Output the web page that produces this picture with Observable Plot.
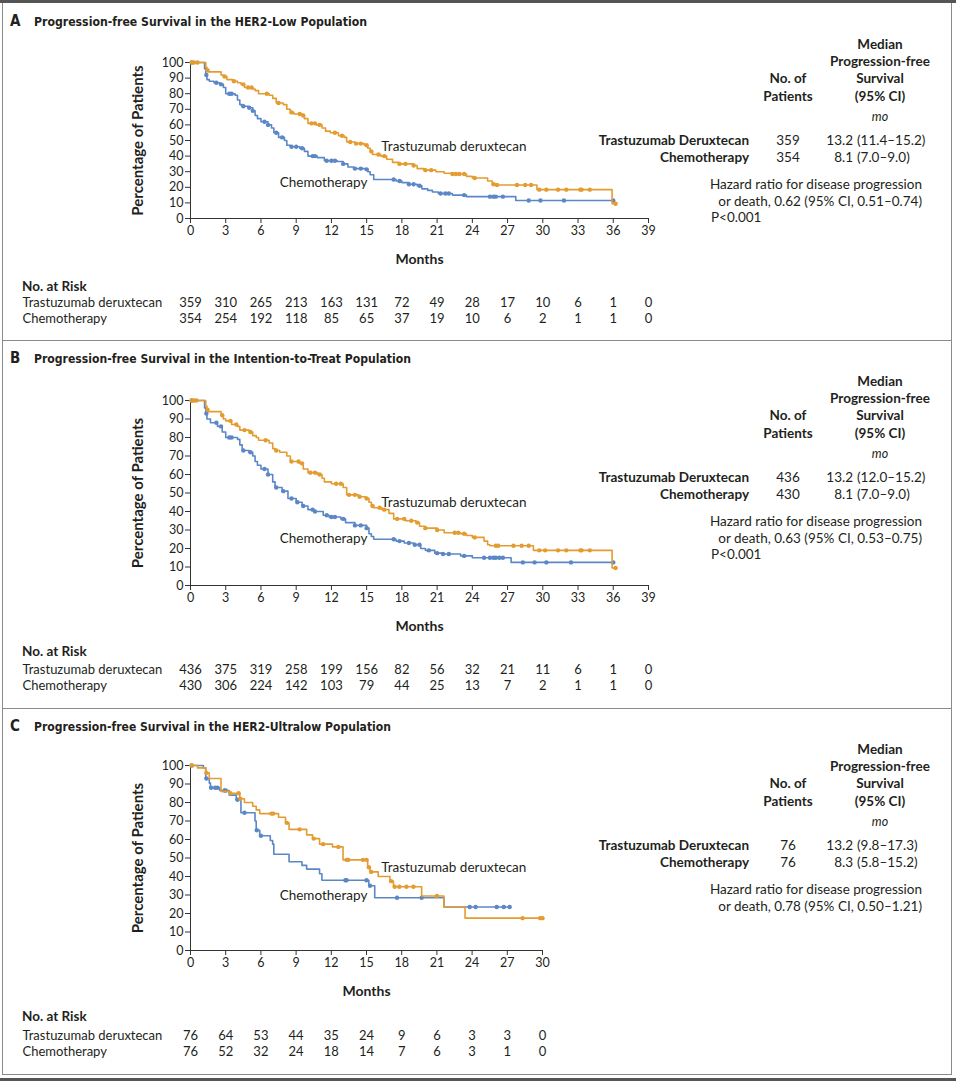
<!DOCTYPE html>
<html><head><meta charset="utf-8">
<script src="https://cdn.jsdelivr.net/npm/d3@7"></script>
<script src="https://cdn.jsdelivr.net/npm/@observablehq/plot@0.6"></script>
<style>
body{margin:0;background:#fff;}
#page{position:relative;width:956px;height:1082px;font-family:Lato,"Open Sans",sans-serif;color:#231f20;overflow:hidden;background:#fff;}
.abs{position:absolute;white-space:nowrap;line-height:16px;font-size:13.5px;}
.b{font-weight:bold;}
.it{font-style:italic;font-size:12.5px;}
.title{font-family:"Liberation Sans Narrow","DejaVu Sans Condensed",Lato,sans-serif;font-weight:bold;font-size:13px;transform-origin:0 50%;}
.title .lt{font-size:15px;display:inline-block;width:24px;}
.line{position:absolute;}
.plotwrap{position:absolute;left:0;}
.plotwrap svg [aria-label="x-axis label"]{font-weight:bold;font-size:14px;}
.plotwrap svg [aria-label="y-axis label"]{font-weight:bold;font-size:15px;}
</style>
</head><body><div id="page"></div>
<script>
// ---------- Data ----------
const groups = ["Trastuzumab deruxtecan", "Chemotherapy"];
const yTicks = [0,10,20,30,40,50,60,70,80,90,100];
const monthTicks39 = [0,3,6,9,12,15,18,21,24,27,30,33,36,39];
const monthTicks30 = [0,3,6,9,12,15,18,21,24,27,30];

// Panel A: HER2-low  [month, % progression-free]
const tdxdA = [[0,100],[1.3,97],[1.4,95],[1.5,94],[2.6,92],[2.8,91],[3.1,89],[3.6,88],[4.0,87],[4.3,86],[4.6,84],[5.3,83],[5.5,82],[5.8,80],[6.7,79],[7.0,77],[7.3,74],[7.9,73],[8.2,70],[8.5,68],[8.8,67],[9.5,66],[9.7,64],[10.0,61],[10.7,60],[11.2,58],[11.5,56],[11.9,55],[12.6,53],[13.1,52],[13.3,49],[14.0,48],[14.8,47],[15.1,45],[15.3,43],[15.5,41],[16.2,40],[16.7,38],[17.2,36],[17.7,35],[19.0,34],[19.3,32],[19.9,31],[20.9,30],[21.6,29],[22.3,28.5],[23.5,27],[24.0,26],[25.3,24],[25.7,22],[26.0,21.5],[29.5,18.5],[35.9,9.5],[36.2,9.5]];
const chemoA = [[0,100],[1.2,96],[1.3,92],[1.4,89],[1.6,88],[2.0,87],[2.5,86],[2.8,84],[3.0,80],[3.8,79],[4.0,76],[4.2,73],[4.4,72],[4.9,71],[5.3,69],[5.5,66],[5.7,64],[6.0,62],[6.6,60],[6.9,58],[7.1,55],[7.5,52],[8.0,50],[8.2,47],[8.5,46],[9.3,45],[9.7,43],[10.0,40],[10.8,39],[11.4,37],[12.5,36.5],[13.0,35],[13.4,33],[13.9,32],[14.9,31.5],[15.1,30],[15.3,28],[15.6,25],[17.5,24],[18.0,23],[18.6,22],[19.3,21],[19.7,19],[20.2,18],[20.6,17],[21.1,16],[22.3,15],[23.5,14],[27.7,11.5],[36.0,11.5]];
const tdxdCensA = [0.1,0.3,0.6,1.45,2.9,3.7,4.5,4.9,5.2,6.5,7.5,8.6,9.3,9.6,10.3,10.6,11.0,12.3,12.9,13.6,14.1,14.5,15.0,15.4,16.0,16.5,17.8,18.3,19.0,20.0,20.5,22.3,22.6,22.9,23.3,24.2,25.8,26.1,27.8,28.5,29.0,29.7,30.3,31.3,32.0,33.2,33.3,34.0,36.2];
const chemoCensA = [0.1,1.35,2.2,2.6,3.3,3.5,4.5,5.0,5.3,6.3,6.6,7.3,7.8,8.6,9.0,9.5,10.4,10.6,11.6,12.0,12.3,13.0,14.0,14.5,15.0,17.3,17.8,18.6,19.0,19.5,21.3,21.7,22.0,23.3,25.5,25.8,26.0,26.6,28.8,29.8,31.8,36.0];
const riskTdxdA = [359,310,265,213,163,131,72,49,28,17,10,6,1,0];
const riskChemoA = [354,254,192,118,85,65,37,19,10,6,2,1,1,0];

// Panel B: intention-to-treat
const tdxdB = [[0,100],[1.3,97],[1.4,95],[1.5,94],[2.6,92],[2.8,90],[3.0,89],[3.5,87],[4.0,86],[4.2,84],[5.0,83],[5.3,81],[5.6,80],[5.8,78.5],[6.7,77],[7.0,74],[7.2,73],[7.6,72],[8.2,70],[8.5,67],[9.3,66],[9.6,63],[10.0,61],[10.8,60],[11.2,58],[11.4,56],[12.0,55],[13.0,53],[13.3,49],[14.3,48],[14.9,47],[15.2,45],[15.4,43],[15.6,42],[16.3,41],[16.9,39],[17.3,36],[18.3,35],[19.2,34],[19.5,32],[20.0,31],[21.0,30],[21.6,28.5],[23.0,28],[23.5,27],[24.0,26],[25.0,24],[25.3,22],[25.5,21.5],[29.2,19],[35.9,9.5],[36.2,9.5]];
const chemoB = [[0,100],[1.2,96],[1.3,93],[1.4,90],[1.7,88],[2.3,86],[2.7,83],[3.0,80],[4.0,79],[4.2,76],[4.4,73],[5.0,72],[5.3,70],[5.5,67],[5.7,65],[6.0,63],[6.6,60],[7.0,56],[7.2,53],[7.8,51],[8.3,47],[9.0,45],[9.5,43],[10.0,41],[10.5,40],[11.3,38],[11.8,37],[12.8,36],[13.2,34],[14.0,32.5],[15.0,31],[15.2,28],[15.4,26.5],[15.6,25],[17.5,24],[18.2,23],[19.0,22],[19.6,20],[20.0,19],[20.8,17.5],[21.5,17],[23.0,16],[24.0,15],[27.3,12.5],[36.0,12.5]];
const tdxdCensB = [0.1,0.3,0.5,1.45,2.7,3.4,3.9,4.6,5.1,6.4,7.3,8.6,9.2,9.5,10.2,10.6,11.0,12.4,12.8,13.5,14.0,14.4,15.0,15.5,16.1,16.5,17.6,18.2,18.8,19.3,20.0,21.0,22.5,22.8,23.3,24.2,26.0,26.2,27.5,28.2,28.8,29.7,30.2,31.3,32.0,33.2,33.3,34.0,36.2];
const chemoCensB = [0.1,1.35,2.2,2.6,3.3,3.5,4.5,5.1,6.3,6.6,7.3,7.9,8.6,9.1,9.6,10.4,10.6,11.6,12.0,12.3,13.0,14.0,14.5,15.0,17.3,17.8,18.6,19.1,19.5,20.3,21.0,21.5,22.0,23.3,25.0,25.5,25.8,26.0,26.3,26.6,28.3,29.3,30.3,32.4,36.0];
const riskTdxdB = [436,375,319,258,199,156,82,56,32,21,11,6,1,0];
const riskChemoB = [430,306,224,142,103,79,44,25,13,7,2,1,1,0];

// Panel C: HER2-ultralow
const tdxdC = [[0,100],[0.6,98.7],[1.3,96],[1.6,93],[2.6,86],[3.3,85],[4.2,82],[4.6,80],[5.3,78],[5.6,76],[5.9,74],[7.5,72],[8.1,69],[8.4,65.5],[9.9,62.5],[10.4,60.5],[11.0,57.5],[12.1,56],[13.0,49],[15.1,45],[15.3,42.5],[16.0,40],[17.0,37.5],[17.3,34.5],[19.7,29.5],[21.6,23.5],[23.4,17.5],[30.0,17.5]];
const chemoC = [[0,100],[1.1,98.7],[1.3,93],[1.6,90.5],[1.7,88],[2.5,86.5],[3.3,84],[3.9,81.5],[4.3,74.5],[5.5,70],[5.6,65],[5.9,62],[6.8,59.5],[7.0,57.5],[7.1,52],[8.4,48],[9.5,46],[9.9,44],[11.0,41.5],[11.2,38],[15.2,35],[15.7,28.5],[21.6,23.5],[27.3,23.5]];
const tdxdCensC = [0.1,1.35,3.4,4.1,4.25,6.9,7.05,8.2,9.3,10.5,11.3,12.6,13.3,13.45,14.7,15.0,15.2,15.4,17.1,17.4,17.8,18.4,19.0,21.0,28.3,29.8,30.0];
const chemoCensC = [0.1,1.35,1.75,2.1,2.3,2.9,3.0,4.0,4.6,5.65,6.0,13.2,13.3,15.0,15.3,17.6,19.7,23.8,24.3,26.1,26.7,27.2];
const riskTdxdC = [76,64,53,44,35,24,9,6,3,3,0];
const riskChemoC = [76,52,32,24,18,14,7,6,3,1,0];

// Curve labels [text, month, %]
const labelsA = [["Trastuzumab deruxtecan",16.25,46.2],["Chemotherapy",7.6,23.1]];
const labelsB = [["Trastuzumab deruxtecan",16.25,44.9],["Chemotherapy",7.6,25.4]];
const labelsC = [["Trastuzumab deruxtecan",16.25,44.9],["Chemotherapy",7.6,29.7]];

// Titles and summary tables
const panelLetters = ["A","B","C"];
const panelTitles = ["Progression-free Survival in the HER2-Low Population","Progression-free Survival in the Intention-to-Treat Population","Progression-free Survival in the HER2-Ultralow Population"];
const tableGroups = ["Trastuzumab Deruxtecan","Chemotherapy"];
const patientsN = [[359,354],[436,430],[76,76]];
const medians = [["13.2","8.1"],["13.2","8.1"],["13.2","8.3"]];
const medianCIs = [["(11.4–15.2)","(7.0–9.0)"],["(12.0–15.2)","(7.0–9.0)"],["(9.8–17.3)","(5.8–15.2)"]];
const hazardRatios = ["0.62 (95% CI, 0.51–0.74)","0.63 (95% CI, 0.53–0.75)","0.78 (95% CI, 0.50–1.21)"];
const pValues = ["P<0.001","P<0.001",null];

// ---------- Drawing ----------
const T_COLOR = "#e49c31", C_COLOR = "#5b87c7";
const PX_PER_MONTH = 458/39;
const page = document.getElementById("page");

function addLine(x,y,w,h,c){const d=document.createElement("div");d.className="line";Object.assign(d.style,{left:x+"px",top:y+"px",width:w+"px",height:h+"px",background:c});page.appendChild(d);}
function addText(txt,x,yc,align,cls){
  const d=document.createElement("div");d.className="abs "+(cls||"");d.textContent=txt;
  d.style.top=(yc-8)+"px";
  if(align==="left") d.style.left=x+"px";
  else if(align==="right") d.style.right=(956-x)+"px";
  else {d.style.left=x+"px";d.style.transform="translateX(-50%)";}
  page.appendChild(d);return d;
}
function stepAt(curve,t){let v=curve[0][1];for(const [tt,s] of curve){if(tt<=t)v=s;else break;}return v;}

// frame
addLine(0,0,956,3,"#555");
addLine(2,3,1,1072,"#8a8a8a");
addLine(951,3,1,1072,"#8a8a8a");
addLine(2,340,950,1,"#8a8a8a");
addLine(2,708,950,1,"#8a8a8a");
addLine(2,1074,950,1,"#8a8a8a");
addLine(0,1078,956,3,"#555");

const titleWidths = [333, 377, 357];

function kmPanel(i, o){
  // title
  const t=document.createElement("div");t.className="abs title";
  t.style.left="10px";t.style.top=(o.titleY-8)+"px";
  const lt=document.createElement("span");lt.className="lt";lt.textContent=panelLetters[i];t.appendChild(lt);
  const tt=document.createElement("span");tt.textContent=panelTitles[i];t.appendChild(tt);
  page.appendChild(t);
  const tw=tt.getBoundingClientRect().width;
  if(tw>0){tt.style.display="inline-block";tt.style.transformOrigin="0 50%";tt.style.transform="scaleX("+(titleWidths[i]/tw)+")";}

  const xMax=o.ticks[o.ticks.length-1];
  const width=Math.round(190+22+xMax*PX_PER_MONTH);
  const chart=Plot.plot({
    width, height:o.height, marginLeft:190, marginRight:22, marginTop:17, marginBottom:52,
    style:{fontFamily:"Lato, 'Open Sans', sans-serif",fontSize:"12.5px",color:"#231f20",background:"transparent",overflow:"visible"},
    x:{domain:[0,xMax]}, y:{domain:[0,100]},
    marks:[
      Plot.axisX({ticks:o.ticks,tickSize:5,tickPadding:3,fontSize:12.5,label:"Months",labelAnchor:"center",labelArrow:"none",labelOffset:45,stroke:"#333"}),
      Plot.axisY({ticks:yTicks,tickSize:5,tickPadding:2,fontSize:12.5,label:"Percentage of Patients",labelAnchor:"center",labelArrow:"none",labelOffset:58,stroke:"#333"}),
      Plot.ruleX([0],{stroke:"#333"}),
      Plot.ruleY([0],{stroke:"#333"}),
      Plot.line(o.chemo,{x:d=>d[0],y:d=>d[1],curve:"step-after",stroke:C_COLOR,strokeWidth:1.6}),
      Plot.dot(o.chemoCens,{x:d=>d,y:d=>stepAt(o.chemo,d),r:2.2,fill:C_COLOR,stroke:null}),
      Plot.line(o.tdxd,{x:d=>d[0],y:d=>d[1],curve:"step-after",stroke:T_COLOR,strokeWidth:1.6}),
      Plot.dot(o.tdxdCens,{x:d=>d,y:d=>stepAt(o.tdxd,d),r:2.2,fill:T_COLOR,stroke:null}),
      Plot.text(o.labels,{x:d=>d[1],y:d=>d[2],text:d=>d[0],textAnchor:"start",fontSize:13.5,fill:"#231f20"})
    ]
  });
  const w1=document.createElement("div");w1.className="plotwrap";w1.style.top=o.chartTop+"px";w1.appendChild(chart);page.appendChild(w1);

  // at risk
  addText("No. at Risk",22,o.riskTitleY,"left","b");
  const riskData=[];
  o.ticks.forEach((m,j)=>{riskData.push({m,g:groups[0],n:o.riskT[j]});riskData.push({m,g:groups[1],n:o.riskC[j]});});
  const risk=Plot.plot({
    width, height:35, marginLeft:190, marginRight:22, marginTop:0, marginBottom:0,
    style:{fontFamily:"Lato, 'Open Sans', sans-serif",fontSize:"13px",color:"#231f20",background:"transparent",overflow:"visible"},
    x:{domain:[0,xMax],axis:null}, y:{type:"band",domain:groups,axis:null},
    marks:[
      Plot.text(riskData,{x:"m",y:"g",text:"n",fontSize:13,fill:"#231f20"}),
      Plot.text(groups,{y:d=>d,text:d=>d,frameAnchor:"left",textAnchor:"start",dx:-168,fontSize:13,fill:"#231f20"})
    ]
  });
  const w2=document.createElement("div");w2.className="plotwrap";w2.style.top=o.riskTop+"px";w2.appendChild(risk);page.appendChild(w2);

  // summary table
  const y0=o.tableY;
  ["Median","Progression-free","Survival","(95% CI)"].forEach((s,k)=>addText(s,880,y0+[0,17,34,52][k],"center","b"));
  addText("No. of",788,y0+34,"center","b");
  addText("Patients",788,y0+52,"center","b");
  addText("mo",880,y0+73,"center","it");
  tableGroups.forEach((g,k)=>{
    const yy=y0+96+k*16.5;
    addText(g,749,yy,"right","b");
    addText(String(patientsN[i][k]),788,yy,"center");
    addText(medians[i][k],853,yy,"right");
    addText(medianCIs[i][k],857,yy,"left");
  });
  addText("Hazard ratio for disease progression",922,y0+140,"right");
  addText("or death, "+hazardRatios[i],922,y0+156.5,"right");
  if(pValues[i]) addText(pValues[i],711,y0+173,"left");
}

kmPanel(0,{titleY:21,chartTop:45,height:225,ticks:monthTicks39,tdxd:tdxdA,chemo:chemoA,tdxdCens:tdxdCensA,chemoCens:chemoCensA,labels:labelsA,riskTitleY:286,riskTop:293,riskT:riskTdxdA,riskC:riskChemoA,tableY:44});
kmPanel(1,{titleY:358,chartTop:383,height:254,ticks:monthTicks39,tdxd:tdxdB,chemo:chemoB,tdxdCens:tdxdCensB,chemoCens:chemoCensB,labels:labelsB,riskTitleY:651,riskTop:660,riskT:riskTdxdB,riskC:riskChemoB,tableY:381});
kmPanel(2,{titleY:726,chartTop:748,height:254,ticks:monthTicks30,tdxd:tdxdC,chemo:chemoC,tdxdCens:tdxdCensC,chemoCens:chemoCensC,labels:labelsC,riskTitleY:1016,riskTop:1026,riskT:riskTdxdC,riskC:riskChemoC,tableY:749});
</script></body></html>
